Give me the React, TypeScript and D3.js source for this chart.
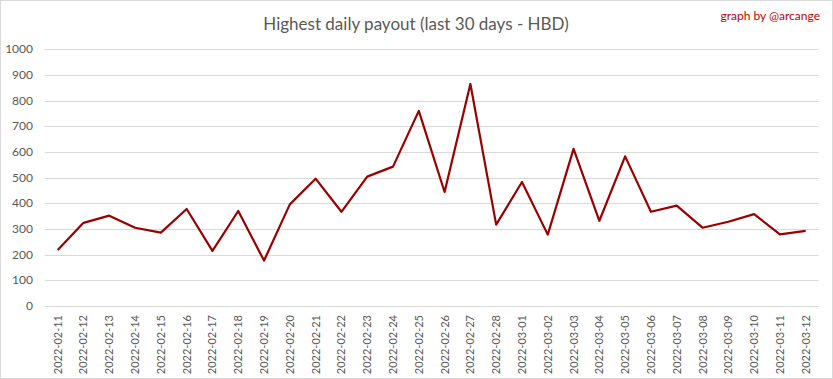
import React from "react";
import * as d3 from "d3";

const dates = [
  "2022-02-11","2022-02-12","2022-02-13","2022-02-14","2022-02-15","2022-02-16","2022-02-17","2022-02-18","2022-02-19","2022-02-20",
  "2022-02-21","2022-02-22","2022-02-23","2022-02-24","2022-02-25","2022-02-26","2022-02-27","2022-02-28","2022-03-01","2022-03-02",
  "2022-03-03","2022-03-04","2022-03-05","2022-03-06","2022-03-07","2022-03-08","2022-03-09","2022-03-10","2022-03-11","2022-03-12",
];
const payouts = [
  218, 324, 352, 305, 286, 378, 215, 370, 177, 396,
  496, 367, 504, 543, 760, 444, 865, 317, 483, 278,
  612, 332, 583, 367, 391, 305, 328, 358, 279, 293,
];
const yTicks = [0, 100, 200, 300, 400, 500, 600, 700, 800, 900, 1000];

const W = 833, H = 379;
const plotLeft = 44.8, plotRight = 818.6, plotTop = 49.3, plotBottom = 306;
const font = "Lato, 'Open Sans', sans-serif";

export default function App() {
  const x = d3.scaleBand<string>().domain(dates).range([plotLeft, plotRight]);
  const y = d3.scaleLinear().domain([0, 1000]).range([plotBottom, plotTop]);
  const line = d3.line<number>()
    .x((_, i) => (x(dates[i]) as number) + x.bandwidth() / 2)
    .y((d) => y(d));
  return (
    <svg width={W} height={H} style={{ position: "absolute", left: 0, top: 0, background: "#fff" }}>
      <rect x={0.5} y={0.5} width={W - 1} height={H - 1} fill="#fff" stroke="#d9d9d9" />
      <text x={416} y={30} textAnchor="middle" fontFamily={font} fontSize={17} fill="#595959">
        Highest daily payout (last 30 days - HBD)
      </text>
      <text x={820} y={20} textAnchor="end" fontFamily={font} fontSize={12} fill="#c00000">
        graph by @arcange
      </text>
      {yTicks.map((t) => (
        <g key={t}>
          <line x1={plotLeft} x2={plotRight} y1={Math.round(y(t)) + 0.5} y2={Math.round(y(t)) + 0.5} stroke="#d9d9d9" strokeWidth={1} />
          <text x={33} y={y(t) + 4} textAnchor="end" fontFamily={font} fontSize={12} fill="#595959">{t}</text>
        </g>
      ))}
      {dates.map((d) => {
        const cx = (x(d) as number) + x.bandwidth() / 2;
        return (
          <text key={d} transform={`translate(${cx + 4},${plotBottom + 9}) rotate(-90)`} textAnchor="end"
            fontFamily={font} fontSize={11} fill="#595959">{d}</text>
        );
      })}
      <path d={line(payouts) as string} fill="none" stroke="#990000" strokeWidth={2.2} strokeLinejoin="round" />
    </svg>
  );
}
